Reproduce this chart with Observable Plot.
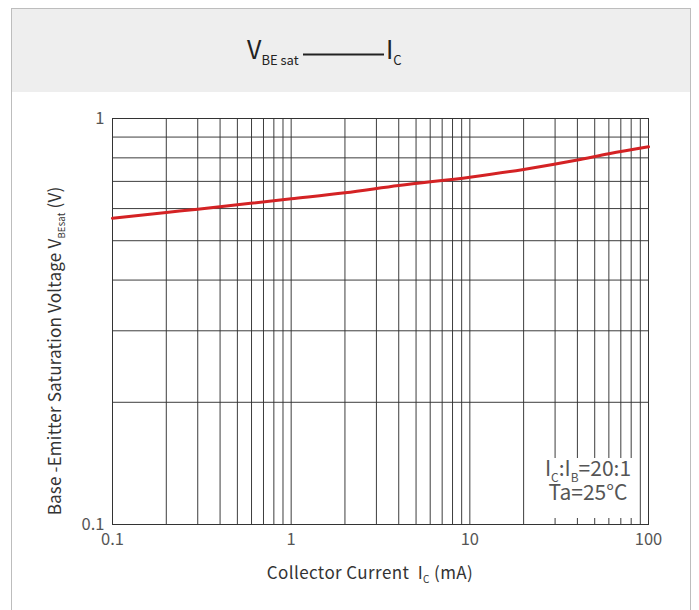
<!DOCTYPE html>
<html>
<head>
<meta charset="utf-8">
<script src="https://cdn.jsdelivr.net/npm/d3@7"></script>
<script src="https://cdn.jsdelivr.net/npm/@observablehq/plot@0.6"></script>
<style>
  html, body { margin: 0; padding: 0; background: #fff; }
  body { width: 699px; height: 610px; position: relative; overflow: hidden; font-family: "Noto Sans CJK SC", "Noto Sans", sans-serif; }
  #card { position: absolute; left: 11px; top: 8px; width: 680px; height: 660px; border: 1px solid #bdbdbd; box-sizing: border-box; background: #fff; }
  #header { position: absolute; left: 12px; top: 9px; width: 678px; height: 83px; background: #eeeeee; }
  #chart { position: absolute; left: 0; top: 92px; }
</style>
</head>
<body>
<div id="card"></div>
<div id="header"></div>
<div id="chart"></div>
<script>
// ---- data ----
const collectorCurrent = [0.1, 0.2, 0.3, 0.5, 1, 2, 4, 10, 20, 40, 60, 100];          // mA
const vbeSat           = [0.568, 0.587, 0.598, 0.613, 0.634, 0.656, 0.684, 0.717, 0.749, 0.790, 0.819, 0.852]; // V
const xTicks = [0.1, 1, 10, 100];
const yTicks = [0.1, 1];
const xGrid = [0.2, 0.3, 0.4, 0.5, 0.6, 0.7, 0.8, 0.9, 1, 2, 3, 4, 5, 6, 7, 8, 9, 10, 20, 30, 40, 50, 60, 70, 80, 90];
const yGrid = [0.2, 0.3, 0.4, 0.5, 0.6, 0.7, 0.8, 0.9];
const noteLines = [["I", "C", ":I", "B", "=20:1"], ["Ta=25°C"]];

const data = collectorCurrent.map((ic, i) => ({ic, v: vbeSat[i]}));
const font = "'Noto Sans CJK SC', 'Noto Sans', sans-serif";

// ---- header title ----
const hdr = d3.select("#header").append("svg").attr("width", 678).attr("height", 83)
  .style("font-family", font);
const t1 = hdr.append("text").attr("x", 235).attr("y", 50).attr("fill", "#222");
t1.append("tspan").attr("font-size", 25).text("V");
t1.append("tspan").attr("font-size", 13).attr("dy", 6).text("BE sat");
hdr.append("line").attr("x1", 291).attr("x2", 372).attr("y1", 45.5).attr("y2", 45.5)
  .attr("stroke", "#222").attr("stroke-width", 2);
const t2 = hdr.append("text").attr("x", 374).attr("y", 50).attr("fill", "#222");
t2.append("tspan").attr("font-size", 25).text("I");
t2.append("tspan").attr("font-size", 13).attr("dy", 6).text("C");

// ---- chart ----
const W = 699, H = 518, mL = 112, mR = 51, mT = 26, mB = 86;
const gridStyle = {stroke: "#333", strokeWidth: 1, strokeOpacity: 0.95};

const noteBox = (index, scales, values, dim) => {
  const x2 = dim.width - dim.marginRight - 13, y2 = dim.height - dim.marginBottom - 6;
  return d3.create("svg:rect")
    .attr("x", x2 - 102).attr("y", y2 - 60).attr("width", 102).attr("height", 60)
    .attr("fill", "#fff").node();
};

const plot = Plot.plot({
  width: W, height: H, marginLeft: mL, marginRight: mR, marginTop: mT, marginBottom: mB,
  style: {background: "transparent", color: "#555", fontFamily: font, fontWeight: 400},
  x: {type: "log", domain: [0.1, 100]},
  y: {type: "log", domain: [0.1, 1]},
  marks: [
    Plot.ruleX(xGrid, gridStyle),
    Plot.ruleY(yGrid, gridStyle),
    noteBox,
    Plot.frame({stroke: "#333", strokeWidth: 1}),
    Plot.line(data, {x: "ic", y: "v", stroke: "#d42224", strokeWidth: 3, curve: "monotone-x"}),
    Plot.axisX(xTicks, {tickSize: 0, tickPadding: 9, fontSize: 16.5, tickFormat: d => String(d), label: null}),
    Plot.axisY(yTicks, {tickSize: 0, tickPadding: 8, fontSize: 16.5, tickFormat: d => String(d), label: null})
  ]
});
document.getElementById("chart").appendChild(plot);

const svg = d3.select(plot);

// x axis label
const xl = svg.append("text").attr("x", 370).attr("y", 487).attr("text-anchor", "middle")
  .attr("font-size", 17).attr("font-weight", 400).attr("letter-spacing", 0.4)
  .attr("fill", "#333").attr("font-family", font);
xl.append("tspan").text("Collector Current  I");
xl.append("tspan").attr("font-size", 10).attr("dy", 4).text("C");
xl.append("tspan").attr("dy", -4).text(" (mA)");

// y axis label
const yl = svg.append("text").attr("transform", "translate(61,259) rotate(-90)").attr("text-anchor", "middle")
  .attr("font-size", 17).attr("font-weight", 400).attr("letter-spacing", 0.2)
  .attr("fill", "#333").attr("font-family", font);
yl.append("tspan").text("Base -Emitter Saturation Voltage V");
yl.append("tspan").attr("font-size", 9.5).attr("dy", 4).text("BEsat");
yl.append("tspan").attr("dy", -4).text(" (V)");

// annotation
const nx = W - mR - 13 - 47, ny = H - mB - 6 - 60;
const n1 = svg.append("text").attr("x", nx).attr("y", ny + 18).attr("text-anchor", "middle")
  .attr("font-size", 21).attr("font-weight", 400).attr("fill", "#555").attr("font-family", font);
n1.append("tspan").text(noteLines[0][0]);
n1.append("tspan").attr("font-size", 12).attr("dy", 6).text(noteLines[0][1]);
n1.append("tspan").attr("dy", -6).text(noteLines[0][2]);
n1.append("tspan").attr("font-size", 12).attr("dy", 6).text(noteLines[0][3]);
n1.append("tspan").attr("dy", -6).text(noteLines[0][4]);
svg.append("text").attr("x", nx).attr("y", ny + 42).attr("text-anchor", "middle")
  .attr("font-size", 21).attr("font-weight", 400).attr("fill", "#555").attr("font-family", font).text(noteLines[1][0]);
</script>
</body>
</html>
